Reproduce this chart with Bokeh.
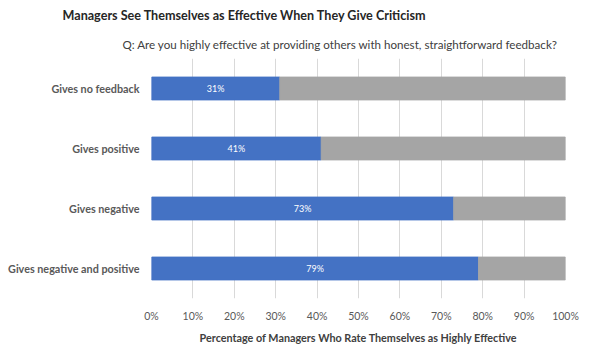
from bokeh.plotting import figure
from bokeh.models import Title, FactorRange, NumeralTickFormatter, FixedTicker, ColumnDataSource
from bokeh.embed import file_html
from bokeh.resources import INLINE
from bokeh.core.properties import value

categories = ["Gives no feedback", "Gives positive", "Gives negative", "Gives negative and positive"]
effective = [0.31, 0.41, 0.73, 0.79]
rest = [1 - v for v in effective]
labels = ["31%", "41%", "73%", "79%"]
ticks = [i / 10 for i in range(11)]

FONT = "Lato"
BLUE = "#4472C4"
GRAY = "#A5A5A5"

src = ColumnDataSource(dict(cat=categories, eff=effective, rest=rest, lab=labels,
                            mid=[v / 2 for v in effective]))

p = figure(width=600, height=355, output_backend="svg", toolbar_location=None,
           y_range=FactorRange(*reversed(categories)), x_range=(0, 1),
           min_border_left=151, min_border_right=35, min_border_top=0, min_border_bottom=57)
p.outline_line_color = None
p.background_fill_color = "white"

p.hbar(y="cat", left=0, right="eff", height=0.38, color=BLUE, source=src)
p.hbar(y="cat", left="eff", right=1, height=0.38, color=GRAY, source=src)
p.text(x="mid", y="cat", text="lab", source=src, text_color="white", text_font=value(FONT),
       text_font_size="9px", text_align="center", text_baseline="middle")

p.xaxis.ticker = FixedTicker(ticks=ticks)
p.xaxis.formatter = NumeralTickFormatter(format="0%")
p.xaxis.axis_line_color = None
p.xaxis.major_tick_line_color = None
p.xaxis.minor_tick_line_color = None
p.xaxis.major_label_text_font = FONT
p.xaxis.major_label_text_font_size = "10.5px"
p.xaxis.major_label_text_color = "#595959"
p.xaxis.major_label_standoff = 5
p.xaxis.axis_label = "Percentage of Managers Who Rate Themselves as Highly Effective"
p.xaxis.axis_label_text_font = FONT
p.xaxis.axis_label_text_font_size = "10.8px"
p.xaxis.axis_label_text_font_style = "bold"
p.xaxis.axis_label_text_color = "#404040"
p.xaxis.axis_label_standoff = 6

p.yaxis.axis_line_color = None
p.yaxis.major_tick_line_color = None
p.yaxis.major_label_text_font = FONT
p.yaxis.major_label_text_font_size = "10.8px"
p.yaxis.major_label_text_font_style = "bold"
p.yaxis.major_label_text_color = "#595959"
p.yaxis.major_label_standoff = 6

p.xgrid.grid_line_color = "#D9D9D9"
p.xgrid.ticker = FixedTicker(ticks=ticks)
p.ygrid.grid_line_color = None

p.title.text = "Managers See Themselves as Effective When They Give Criticism"
p.title.text_font = FONT
p.title.text_font_size = "12.6px"
p.title.text_font_style = "bold"
p.title.text_color = "#262626"
p.title.align = "left"
p.title.offset = -89
p.title.standoff = 10

p.add_layout(Title(text="Q:  Are you highly effective at providing others with honest, straightforward feedback?",
                   text_font=FONT, text_font_size="11.6px", text_font_style="normal",
                   text_color="#404040", align="left", offset=-29, standoff=16), "above")

open("out.html", "w").write(file_html(p, INLINE))
